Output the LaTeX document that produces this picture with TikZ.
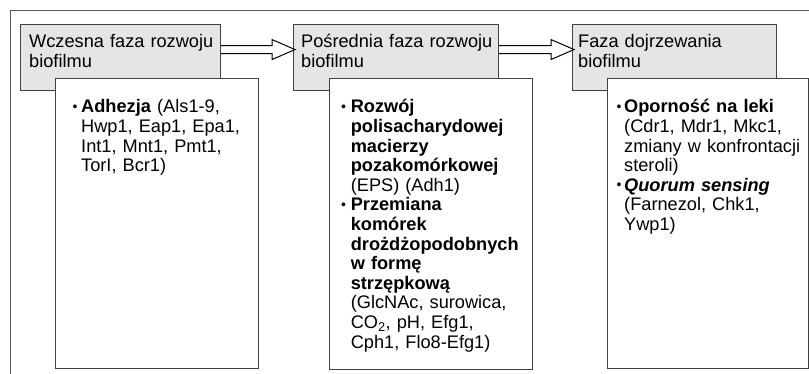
\documentclass[tikz,border=0pt]{standalone}
\usepackage{fontspec}
\setmainfont{Liberation Sans}
\newcommand\mybul[1]{\hspace*{-#1}\makebox[#1][l]{\raisebox{1.6pt}{\fontsize{14}{14}\selectfont •}}}
\begin{document}
\begin{tikzpicture}[x=1pt,y=-1pt,
  gbox/.style={draw=black!75, line width=1.1pt, fill=gray!20, anchor=north west, inner sep=0pt},
  wbox/.style={draw=black!75, line width=1.1pt, fill=white, anchor=north west, inner sep=0pt},
  hdr/.style={anchor=base west, inner sep=0pt, text width=200pt, align=left, font=\fontsize{18.2}{19.2}\selectfont},
  body/.style={anchor=base west, inner sep=0pt, text width=200pt, align=left, font=\fontsize{18.2}{19.6}\selectfont},
  frame/.style={draw=black!65, line width=1pt},
  hollow/.style={draw=black, line width=1pt, fill=white, line join=miter}
]
\useasboundingbox (0,0) rectangle (809,374);
\draw[frame] (10,380) -- (10,11) -- (815,11);

% gray phase boxes
\node[gbox, minimum width=200pt, minimum height=66pt] (g1) at (20,24) {};
\node[gbox, minimum width=205pt, minimum height=66pt] (g2) at (293,24) {};
\node[gbox, minimum width=204pt, minimum height=66pt] (g3) at (572,24) {};

\node[hdr] (t1) at (29,48) {Wczesna faza rozwoju\\biofilmu};
\node[hdr] (t2) at (301,48) {Pośrednia faza rozwoju\\biofilmu};
\node[hdr] (t3) at (578,48) {Faza dojrzewania\\biofilmu};

% hollow arrows
\foreach \s/\e in {g1/g2, g2/g3}{
  \draw[hollow] ([yshift=12pt]\s.east) -- ([xshift=-21pt,yshift=12pt]\e.west)
     -- ([xshift=-21pt,yshift=18pt]\e.west) -- ([xshift=2pt,yshift=8pt]\e.west)
     -- ([xshift=-21pt,yshift=-2pt]\e.west) -- ([xshift=-21pt,yshift=4pt]\e.west)
     -- ([yshift=4pt]\s.east);
}

% white detail boxes
\node[wbox, minimum width=203pt, minimum height=290pt] (w1) at (55,78) {};
\node[wbox, minimum width=203pt, minimum height=291pt] (w2) at (329,78) {};
\node[wbox, minimum width=201pt, minimum height=290pt] (w3) at (607,78) {};

\node[body] (b1) at (81,113) {\mybul{8.7pt}\textbf{Adhezja} (Als1-9,\\Hwp1, Eap1, Epa1,\\Int1, Mnt1, Pmt1,\\TorI, Bcr1)};
\node[body] (b2) at (350.6,113) {\mybul{9.6pt}\textbf{Rozwój}\\\textbf{polisacharydowej}\\\textbf{macierzy}\\\textbf{pozakomórkowej}\\(EPS) (Adh1)\\\mybul{9.6pt}\textbf{Przemiana}\\\textbf{komórek}\\\textbf{drożdżopodobnych}\\\textbf{w formę}\\\textbf{strzępkową}\\(GlcNAc, surowica,\\CO\textsubscript{2}, pH, Efg1,\\Cph1, Flo8-Efg1)};
\node[body] (b3) at (624,113) {\mybul{7.7pt}\textbf{Oporność na leki}\\(Cdr1, Mdr1, Mkc1,\\zmiany w konfrontacji\\steroli)\\\mybul{7.7pt}\textbf{\textit{Quorum sensing}}\\(Farnezol, Chk1,\\Ywp1)};
\end{tikzpicture}
\end{document}
